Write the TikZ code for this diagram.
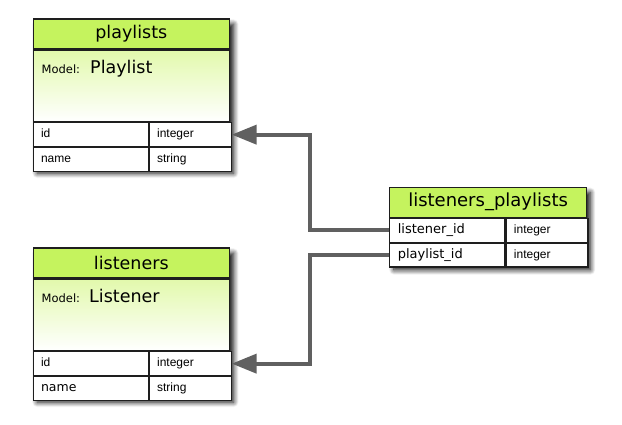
\documentclass[tikz,border=0pt]{standalone}
\usepackage{fontspec}
\setmainfont{DejaVu Sans}
\newfontfamily\arialf{Liberation Sans}
\usetikzlibrary{arrows.meta,shadows.blur,calc}
\definecolor{lime}{RGB}{197,243,94}
\definecolor{limelight}{RGB}{226,249,172}
\definecolor{edgec}{RGB}{30,30,30}
\definecolor{connc}{RGB}{96,96,96}
\begin{document}
\begin{tikzpicture}[x=1pt,y=-1pt,
  tbl/.style={draw=edgec, line width=1.3pt, fill=white, inner sep=0pt, anchor=north west,
    blur shadow={shadow xshift=4pt, shadow yshift=-5pt, shadow blur radius=5pt, shadow blur steps=10, shadow opacity=95}},
  hd/.style={draw=edgec, line width=1.1pt, fill=lime, inner sep=0pt, anchor=north west,
    minimum height=30pt, font=\fontsize{17.5}{19}\selectfont},
  mdl/.style={draw=edgec, line width=1.1pt, top color=limelight, bottom color=white,
    inner sep=0pt, anchor=north west, minimum height=71.5pt},
  cella/.style={draw=edgec, line width=1.1pt, fill=white, anchor=north west, inner xsep=8pt, inner ysep=0pt,
    text width=99pt, align=left, minimum height=23.8pt, text height=9pt, text depth=3pt,
    font=\arialf\fontsize{12}{14}\selectfont},
  cellb/.style={cella, text width=66pt},
  dv/.style={font=\fontsize{13}{15}\selectfont},
  modl/.style={anchor=base west, inner sep=0pt, font=\fontsize{11.5}{13}\selectfont},
  modn/.style={anchor=base west, inner sep=0pt, font=\fontsize{17.5}{19}\selectfont},
  connector/.style={draw=connc, line width=4pt, -{Triangle[length=25pt,width=19pt]}}
]
\useasboundingbox (0,0) rectangle (622,425);

% playlists
\node[tbl, minimum width=196.5pt, minimum height=149.1pt] (pl) at (32.5,18.5) {};
\node[hd, minimum width=196.5pt] (plh) at (pl.north west) {playlists};
\node[mdl, minimum width=196.5pt] (plm) at (plh.south west) {};
\node[modl] (plml) at (41.5,74) {Model:};
\node[modn] (plmn) at (90,74) {Playlist};
\node[cella] (plidk) at (plm.south west) {id};
\node[cellb] (plidv) at (plidk.north east) {integer};
\node[cella] (plnmk) at (plidk.south west) {name};
\node[cellb] (plnmv) at (plnmk.north east) {string};

% listeners
\node[tbl, minimum width=196.5pt, minimum height=149.1pt] (ls) at (32.5,247.5) {};
\node[hd, minimum width=196.5pt] (lsh) at (ls.north west) {listeners};
\node[mdl, minimum width=196.5pt] (lsm) at (lsh.south west) {};
\node[modl] (lsml) at (41.5,302) {Model:};
\node[modn] (lsmn) at (89,302) {Listener};
\node[cella] (lsidk) at (lsm.south west) {id};
\node[cellb] (lsidv) at (lsidk.north east) {integer};
\node[cella, dv, font=\fontsize{12.5}{14}\selectfont] (lsnmk) at (lsidk.south west) {name};
\node[cellb] (lsnmv) at (lsnmk.north east) {string};

% listeners_playlists
\node[tbl, minimum width=196.5pt, minimum height=77.6pt] (lp) at (389.3,186.7) {};
\node[hd, minimum width=196.5pt, font=\fontsize{18}{20}\selectfont] (lph) at (lp.north west) {listeners\_playlists};
\node[cella, dv] (lpak) at (lph.south west) {listener\_id};
\node[cellb] (lpav) at (lpak.north east) {integer};
\node[cella, dv] (lpbk) at (lpak.south west) {playlist\_id};
\node[cellb] (lpbv) at (lpbk.north east) {integer};

% connectors
\coordinate (bend) at (309.5,0);
\draw[connector] (lpak.west) -- (lpak.west -| bend) |- (plidv.east);
\draw[connector] (lpbk.west) -- (lpbk.west -| bend) |- (lsidv.east);
\end{tikzpicture}
\end{document}
